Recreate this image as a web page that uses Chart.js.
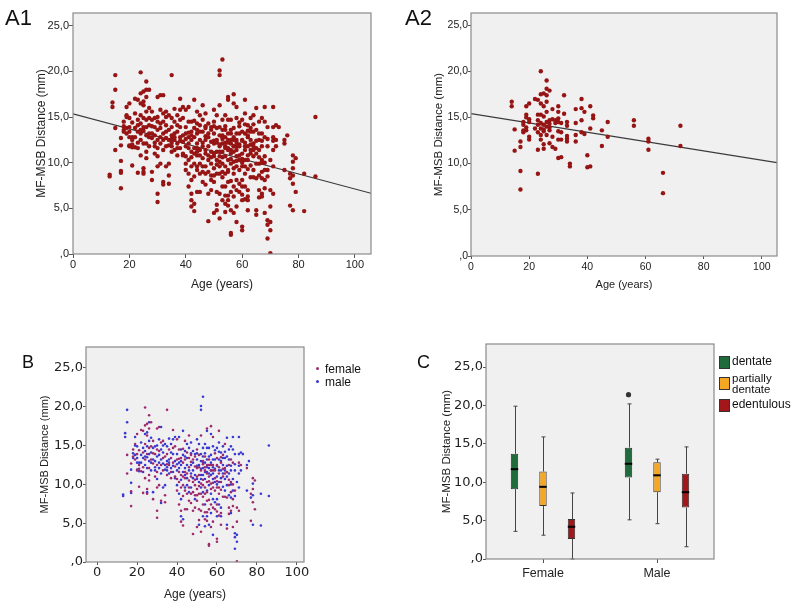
<!DOCTYPE html>
<html>
<head>
<meta charset="utf-8">
<script src="https://cdn.jsdelivr.net/npm/chart.js@4.4.1/dist/chart.umd.min.js"></script>
<style>
  body { margin: 0; background: #fff; }
  #page { position: relative; width: 795px; height: 602px; overflow: hidden; font-family: 'Liberation Sans', Arial, sans-serif; color: #111; }
  canvas { position: absolute; }
  .tag { position: absolute; white-space: nowrap; }
  .dot { position: absolute; width: 3px; height: 3px; border-radius: 50%; }
  .sq { position: absolute; width: 9px; height: 11px; border: 1px solid #333; }
</style>
</head>
<body>
<div id="page">
  <canvas id="chartA1" width="380" height="292" style="left:0;top:0"></canvas>
  <canvas id="chartA2" width="400" height="292" style="left:390px;top:0"></canvas>
  <canvas id="chartB" width="395" height="302" style="left:0;top:300px"></canvas>
  <canvas id="chartC" width="395" height="302" style="left:400px;top:300px"></canvas>

  <div class="tag" style="left:5px;top:7px;font-size:22px;line-height:22px">A1</div>
  <div class="tag" style="left:405px;top:7px;font-size:22px;line-height:22px">A2</div>
  <div class="tag" style="left:22px;top:353px;font-size:18px;line-height:18px">B</div>
  <div class="tag" style="left:417px;top:353px;font-size:18px;line-height:18px">C</div>

  <div class="dot" style="left:316px;top:367px;background:#9e2a6b"></div>
  <div class="tag" style="left:325px;top:362px;font-size:12px;line-height:14px">female</div>
  <div class="dot" style="left:316px;top:380px;background:#3a3ad0"></div>
  <div class="tag" style="left:325px;top:375px;font-size:12px;line-height:14px">male</div>

  <div class="sq" style="left:719px;top:356px;background:#1f6b3b"></div>
  <div class="tag" style="left:732px;top:355px;font-size:12px;line-height:13px">dentate</div>
  <div class="sq" style="left:719px;top:377px;background:#f5a623"></div>
  <div class="tag" style="left:732px;top:373px;font-size:11.5px;line-height:11px">partially<br>dentate</div>
  <div class="sq" style="left:719px;top:399px;background:#a3161a"></div>
  <div class="tag" style="left:732px;top:398px;font-size:12px;line-height:13px">edentulous</div>
</div>

<script>
// rows: [age, distance, distance, ...]
const femaleRows = [
    [15, 13.8, 11.4], [17, 12.7, 9.1, 7.2], [18, 14.5, 13.6], [19, 15.2, 13.2],
    [20, 16.5, 13.9, 11.8], [21, 12.5, 9.7, 14.4, 12.0], [22, 17.0, 11.7], [23, 16.9, 14.1, 8.9, 12.2],
    [24, 19.9, 17.6, 15.2, 13.2, 10.8], [25, 17.8, 16.3, 13.9, 9.4, 8.8],
    [26, 18.9, 17.2, 14.7, 12.1, 10.5, 11.2], [27, 18.0, 14.9, 13.2], [28, 15.6, 12.7, 8.1, 14.0],
    [29, 13.9, 11.0], [30, 17.2, 14.5, 12.5, 9.6, 6.6, 5.7, 11.6], [31, 17.4, 14.3, 9.9],
    [32, 15.4, 12.5, 7.9], [33, 13.4, 11.8, 15.6], [34, 13.6, 8.6, 7.7], [35, 19.6, 13.9, 11.2, 12.6],
    [36, 14.5, 12.5], [37, 13.4, 10.8, 11.6], [38, 17.0, 14.7, 12.8], [39, 14.9, 12.3, 11.0],
    [40, 15.8, 13.2, 10.7, 9.2], [41, 14.5, 10.3, 7.4, 13.3, 11.6], [42, 13.4, 11.2, 9.6, 6.6, 5.2],
    [43, 12.8, 9.9, 8.5, 4.7, 14.6, 11.0], [44, 15.6, 13.2, 10.8, 6.8, 11.6, 9.2],
    [45, 14.1, 11.4, 8.8, 6.8], [46, 16.3, 13.4, 10.5, 7.9, 12.2, 9.6], [47, 13.8, 11.0, 7.6, 12.9, 8.8],
    [48, 13.2, 10.3, 9.0, 6.6, 3.6], [49, 12.3, 9.9, 7.0, 13.6, 10.6, 8.6],
    [50, 14.5, 12.1, 9.4, 7.9, 4.5, 11.0, 8.6], [51, 13.8, 11.2, 8.8, 6.8, 12.2, 9.8, 5.4],
    [52, 16.3, 11.8, 10.1, 8.8, 6.6, 3.9], [53, 13.0, 9.9, 7.4, 12.6, 10.6, 8.4],
    [54, 13.6, 11.8, 8.8, 5.5, 12.2, 9.6, 6.4], [55, 17.2, 12.5, 10.3, 7.9, 5.3, 11.4, 9.0, 6.4],
    [56, 13.2, 11.0, 6.8, 2.3, 2.1, 12.5, 10.4, 8.0], [57, 17.5, 12.5, 10.1, 7.4, 4.5, 11.8, 9.4],
    [58, 16.1, 11.8, 9.6, 5.2, 12.5, 10.2, 7.0], [59, 11.8, 9.2, 6.8, 14.0, 10.8],
    [60, 12.5, 9.6, 6.5, 3.0, 2.6, 13.4, 10.4, 7.4], [61, 16.9, 11.4, 8.8, 12.2, 9.6, 6.0],
    [62, 12.8, 10.3, 6.3, 4.8, 13.5, 9.3], [63, 13.8, 11.0, 12.0, 8.4], [64, 15.2, 12.1, 11.4, 8.4],
    [65, 11.6, 8.3, 4.3], [66, 12.5, 9.9, 7.0, 10.6, 6.2], [67, 13.2, 10.3, 6.6, 9.0],
    [68, 12.8, 8.1, 4.5, 10.0, 7.2], [69, 9.2], [70, 7.0, 5.2, 0.1],
    [71, 12.8, 6.6], [72, 12.5], [75, 12.1], [77, 8.8, 5.3], [78, 10.8, 9.4, 7.7],
    [79, 10.5, 6.8]
];
const maleRows = [
    [13, 8.7, 8.5], [14, 16.6, 16.1], [15, 19.6, 18.0], [17, 11.9, 10.2, 8.9],
    [18, 14.0, 13.4], [19, 16.1, 15.0, 13.8], [20, 14.9, 12.8, 11.9, 13.4], [21, 12.8, 11.7],
    [22, 13.8, 12.8, 15.4], [23, 14.7, 13.4, 11.6], [24, 16.5, 14.3, 12.5, 13.6],
    [25, 16.7, 14.9, 13.5, 12.1, 9.0], [26, 18.0, 15.6, 13.9, 13.0], [27, 16.0, 14.1, 11.8, 12.8],
    [28, 14.7, 13.2, 9.0], [29, 14.9, 13.0, 11.8, 12.2], [30, 15.0, 13.6, 10.7],
    [31, 15.8, 12.8, 12.1, 13.8], [32, 17.4, 14.5, 13.2, 11.4, 7.6], [33, 14.1, 12.7, 9.6, 15.0],
    [34, 15.2, 12.5, 11.9, 9.9], [35, 14.9, 13.0, 11.8, 12.2], [36, 15.9, 13.2, 11.4, 12.8],
    [37, 15.2, 14.1, 12.1], [38, 15.8, 13.9, 11.6, 12.4], [39, 16.1, 13.0, 10.8],
    [40, 13.9, 11.8, 9.9, 12.6], [41, 16.1, 12.8, 12.1, 8.8], [42, 14.5, 12.5, 8.1, 5.9, 13.0, 10.6],
    [43, 16.9, 13.8, 11.6, 5.5], [44, 14.3, 12.1, 9.6, 13.6, 11.2], [45, 15.2, 12.5, 9.9, 13.4, 10.8],
    [46, 14.7, 11.8, 9.0], [47, 15.4, 12.5, 9.6, 14.0, 11.4], [48, 14.3, 11.8, 12.8, 10.8],
    [49, 13.9, 11.2, 8.1], [50, 15.8, 13.2, 10.7, 14.0, 12.4], [51, 15.2, 12.5, 10.3, 4.8],
    [52, 20.1, 19.6, 13.9, 10.7, 9.6, 13.0, 12.0, 11.2], [53, 21.3, 14.7, 12.1, 11.2, 9.0, 5.9, 13.6, 12.8],
    [54, 15.2, 12.8, 10.7, 7.4, 4.6, 14.0, 11.6], [55, 16.9, 14.7, 11.6, 9.2, 5.9, 13.2, 12.2],
    [56, 14.7, 12.1, 9.9, 4.8, 13.6, 11.4], [57, 16.5, 13.8, 11.2, 8.8, 6.3, 12.8, 11.8],
    [58, 14.9, 13.2, 10.7, 8.1, 3.5, 12.2, 11.4], [59, 13.2, 10.3, 7.7, 14.4, 12.0],
    [60, 14.7, 11.0, 8.1, 5.9, 12.4, 10.0], [61, 15.4, 13.2, 10.3, 7.4, 14.2, 11.8],
    [62, 14.1, 11.8, 7.0, 5.9, 13.0, 10.8], [63, 14.9, 12.5, 9.7, 13.4, 11.4],
    [64, 13.4, 10.7, 9.2, 14.2, 11.8], [65, 16.0, 13.6, 9.9, 4.8, 12.4, 11.0],
    [66, 14.5, 11.4, 8.6, 13.2], [67, 14.9, 11.8, 8.3, 6.3, 12.4, 10.0], [68, 16.1, 14.5, 10.7, 9.2],
    [69, 13.9, 11.8, 8.5, 3.7, 3.2, 1.7, 12.6], [70, 10.3, 3.5, 2.6], [71, 16.1, 13.9, 11.4, 9.6, 12.4],
    [72, 14.1, 11.8], [73, 13.9], [75, 12.5, 9.2], [76, 13.0], [77, 8.3],
    [78, 10.1, 8.6, 4.8], [82, 8.8, 4.7], [86, 15.0, 8.5]
];
const youngRows = [
    [14, 16.7, 16.2], [15, 13.7, 11.4], [17, 12.4, 11.8, 9.2, 7.2], [18, 14.5, 14.2, 13.6, 13.4],
    [19, 16.2, 15.3, 15.0, 13.9, 13.6], [20, 16.5, 14.8, 14.5, 12.9, 12.6], [22, 17.0, 13.8],
    [23, 16.9, 15.3, 14.7, 14.2, 13.4, 11.5, 8.9], [24, 20.0, 17.5, 16.5, 15.3, 14.4, 13.8, 13.1, 12.6],
    [25, 17.6, 16.2, 15.1, 14.2, 13.7, 13.5, 12.1, 11.6], [26, 19.0, 18.1, 17.4, 16.7, 15.6, 14.5, 14.0, 13.1],
    [27, 17.9, 14.7, 14.3, 13.9, 13.6, 12.2], [28, 15.9, 14.8, 12.9, 11.8], [29, 14.7, 14.4, 11.6],
    [30, 16.2, 15.6, 14.9, 14.5, 13.5, 12.6, 10.6], [31, 14.4, 13.4, 12.6, 10.7], [32, 17.4, 15.4],
    [33, 14.5, 14.1, 13.0, 12.7, 12.4], [34, 10.0, 9.7], [36, 15.9, 14.4, 13.1, 12.4],
    [38, 17.0, 16.0, 14.7, 13.4], [39, 15.6, 13.2], [40, 10.9, 9.6], [41, 16.2, 13.8, 9.7],
    [42, 15.2, 14.9], [45, 13.6, 11.9], [47, 14.5, 12.9], [56, 14.7, 14.1],
    [61, 12.7, 12.4, 11.5], [66, 9.0, 6.8], [72, 14.1, 11.9]
];

// regression lines, read at the two ends of the age axis
const fitA1 = [[0, 15.35], [105.7, 6.65]];
const fitA2 = [[0, 15.4], [105.2, 10.1]];

// panel C box plots: [group][sex]
const sexes = ['Female', 'Male'];
const groups = ['dentate', 'partially dentate', 'edentulous'];
const boxLow    = [[3.6, 5.1], [3.1, 4.6], [0.0, 1.6]];
const boxQ1     = [[9.1, 10.6], [6.9, 8.7], [2.6, 6.7]];
const boxMedian = [[11.7, 12.4], [9.4, 10.9], [4.2, 8.7]];
const boxQ3     = [[13.7, 14.5], [11.4, 12.6], [5.2, 11.1]];
const boxHigh   = [[19.9, 20.2], [15.9, 13.0], [8.6, 14.6]];
const boxOutliers = [[[], [21.4]], [[], []], [[], []]];

const groupColors = ['#1f6b3b', '#f5a623', '#a3161a'];

function toPoints(rows) {
    return rows.flatMap(([age, ...vals]) => vals.map(v => ({ x: age, y: v })));
}
function toLine(pairs) {
    return pairs.map(([x, y]) => ({ x: x, y: y }));
}
const femalePts = toPoints(femaleRows);
const malePts = toPoints(maleRows);
const allPts = femalePts.concat(malePts);

Chart.defaults.font.family = "'Liberation Sans', Arial, sans-serif";
Chart.defaults.color = '#222';

const commaFmt = v => v === 0 ? ',0' : v.toFixed(1).replace('.', ',');

// grey plot background and frame like SPSS
const framePlugin = {
    id: 'frame',
    beforeDraw(chart) {
        const a = chart.chartArea, ctx = chart.ctx;
        ctx.save();
        ctx.fillStyle = '#f0f0f0';
        ctx.fillRect(a.left, a.top, a.right - a.left, a.bottom - a.top);
        ctx.restore();
    },
    afterDraw(chart) {
        const a = chart.chartArea, ctx = chart.ctx;
        ctx.save();
        ctx.strokeStyle = '#8a8a8a';
        ctx.lineWidth = 1.2;
        ctx.strokeRect(a.left, a.top, a.right - a.left, a.bottom - a.top);
        ctx.restore();
    }
};

function tickGrid(len) {
    return { drawOnChartArea: false, drawTicks: true, tickLength: len, color: '#555', offset: false };
}

function scatterChart(id, cfg) {
    return new Chart(document.getElementById(id), {
        type: 'scatter',
        data: { datasets: cfg.datasets },
        options: {
            responsive: false,
            animation: false,
            devicePixelRatio: 1,
            layout: { padding: cfg.padding },
            plugins: { legend: { display: false }, tooltip: { enabled: false } },
            scales: {
                x: {
                    type: 'linear',
                    min: cfg.xMin, max: cfg.xMax,
                    afterFit: s => { s.height = cfg.xHeight; },
                    border: { display: false },
                    grid: tickGrid(cfg.tickLen),
                    ticks: { stepSize: 20, includeBounds: false, padding: cfg.xTickPad, font: cfg.tickFont },
                    title: { display: true, text: 'Age (years)', font: { size: cfg.titleSize }, padding: { top: cfg.xTitlePad, bottom: 0 } }
                },
                y: {
                    min: 0, max: cfg.yMax,
                    afterFit: s => { s.width = cfg.yWidth; },
                    border: { display: false },
                    grid: tickGrid(cfg.tickLen),
                    ticks: { stepSize: 5, includeBounds: false, padding: 0, font: cfg.tickFont, callback: commaFmt },
                    title: { display: true, text: 'MF-MSB Distance (mm)', font: { size: cfg.yTitleSize }, padding: { top: cfg.yTitlePad, bottom: 0 } }
                }
            }
        },
        plugins: [framePlugin]
    });
}

// A1: all patients
scatterChart('chartA1', {
    datasets: [
        { data: allPts, backgroundColor: '#961414', pointRadius: 2.2, pointBorderWidth: 0 },
        { data: toLine(fitA1), showLine: true, borderColor: '#3a3a3a', borderWidth: 1.2, pointRadius: 0 }
    ],
    padding: { left: 0, top: 13, right: 9, bottom: 0 },
    xMin: 0, xMax: 105.7, yMax: 26.4,
    xHeight: 38, yWidth: 73, tickLen: 4, xTickPad: 0,
    tickFont: { size: 11 }, titleSize: 12, yTitleSize: 12,
    xTitlePad: 2, yTitlePad: 34
});

// A2: subgroup
scatterChart('chartA2', {
    datasets: [
        { data: toPoints(youngRows), backgroundColor: '#961414', pointRadius: 2.2, pointBorderWidth: 0 },
        { data: toLine(fitA2), showLine: true, borderColor: '#3a3a3a', borderWidth: 1.2, pointRadius: 0 }
    ],
    padding: { left: 0, top: 13, right: 13, bottom: 0 },
    xMin: 0, xMax: 105.2, yMax: 26.3,
    xHeight: 36, yWidth: 81, tickLen: 3, xTickPad: 2,
    tickFont: { size: 10.5 }, titleSize: 11, yTitleSize: 11.5,
    xTitlePad: 1.5, yTitlePad: 42
});

// B: by sex
scatterChart('chartB', {
    datasets: [
        { data: femalePts, backgroundColor: '#9e2a6b', pointRadius: 1.3, pointBorderWidth: 0 },
        { data: malePts, backgroundColor: '#3a3ad0', pointRadius: 1.3, pointBorderWidth: 0 }
    ],
    padding: { left: 0, top: 47, right: 91, bottom: 0 },
    xMin: -5.6, xMax: 103.6, yMax: 27.7,
    xHeight: 40, yWidth: 86, tickLen: 3, xTickPad: 0,
    tickFont: { size: 13, family: "'DejaVu Sans', sans-serif" }, titleSize: 12, yTitleSize: 11,
    xTitlePad: 3, yTitlePad: 38
});

// C: box plots per dental status and sex
const boxPlugin = {
    id: 'boxes',
    afterDatasetsDraw(chart) {
        const ctx = chart.ctx, y = chart.scales.y;
        chart.data.datasets.forEach((ds, i) => {
            chart.getDatasetMeta(i).data.forEach((bar, j) => {
                const x = Math.round(bar.x) + 0.5;
                const half = bar.width / 2;
                const pHigh = y.getPixelForValue(boxHigh[i][j]);
                const pLow = y.getPixelForValue(boxLow[i][j]);
                ctx.save();
                ctx.strokeStyle = '#444';
                ctx.lineWidth = 1;
                ctx.beginPath();
                ctx.moveTo(x, y.getPixelForValue(boxQ3[i][j]));
                ctx.lineTo(x, pHigh);
                ctx.moveTo(x, y.getPixelForValue(boxQ1[i][j]));
                ctx.lineTo(x, pLow);
                ctx.moveTo(x - 2, pHigh);
                ctx.lineTo(x + 2, pHigh);
                ctx.moveTo(x - 2, pLow);
                ctx.lineTo(x + 2, pLow);
                ctx.stroke();
                const pMed = y.getPixelForValue(boxMedian[i][j]);
                ctx.strokeStyle = '#000';
                ctx.lineWidth = 2;
                ctx.beginPath();
                ctx.moveTo(bar.x - half, pMed);
                ctx.lineTo(bar.x + half, pMed);
                ctx.stroke();
                ctx.fillStyle = '#333';
                boxOutliers[i][j].forEach(v => {
                    ctx.beginPath();
                    ctx.arc(bar.x, y.getPixelForValue(v), 2.6, 0, Math.PI * 2);
                    ctx.fill();
                });
                ctx.restore();
            });
        });
    }
};

new Chart(document.getElementById('chartC'), {
    type: 'bar',
    data: {
        labels: sexes,
        datasets: groups.map((g, i) => ({
            label: g,
            data: sexes.map((s, j) => [boxQ1[i][j], boxQ3[i][j]]),
            backgroundColor: groupColors[i],
            borderColor: '#333',
            borderWidth: 1,
            borderSkipped: false,
            categoryPercentage: 0.75,
            barPercentage: 0.26
        }))
    },
    options: {
        responsive: false,
        animation: false,
        devicePixelRatio: 1,
        layout: { padding: { left: 0, top: 44, right: 81, bottom: 0 } },
        plugins: { legend: { display: false }, tooltip: { enabled: false } },
        scales: {
            x: {
                afterFit: s => { s.height = 43; },
                border: { display: false },
                grid: tickGrid(4),
                ticks: { padding: 3, font: { size: 12.5 } }
            },
            y: {
                min: 0, max: 28,
                afterFit: s => { s.width = 86; },
                border: { display: false },
                grid: tickGrid(3),
                ticks: { stepSize: 5, includeBounds: false, padding: 0, font: { size: 13, family: "'DejaVu Sans', sans-serif" }, callback: commaFmt },
                title: { display: true, text: 'MF-MSB Distance (mm)', font: { size: 11.5 }, padding: { top: 40, bottom: 0 } }
            }
        }
    },
    plugins: [framePlugin, boxPlugin]
});
</script>
</body>
</html>
